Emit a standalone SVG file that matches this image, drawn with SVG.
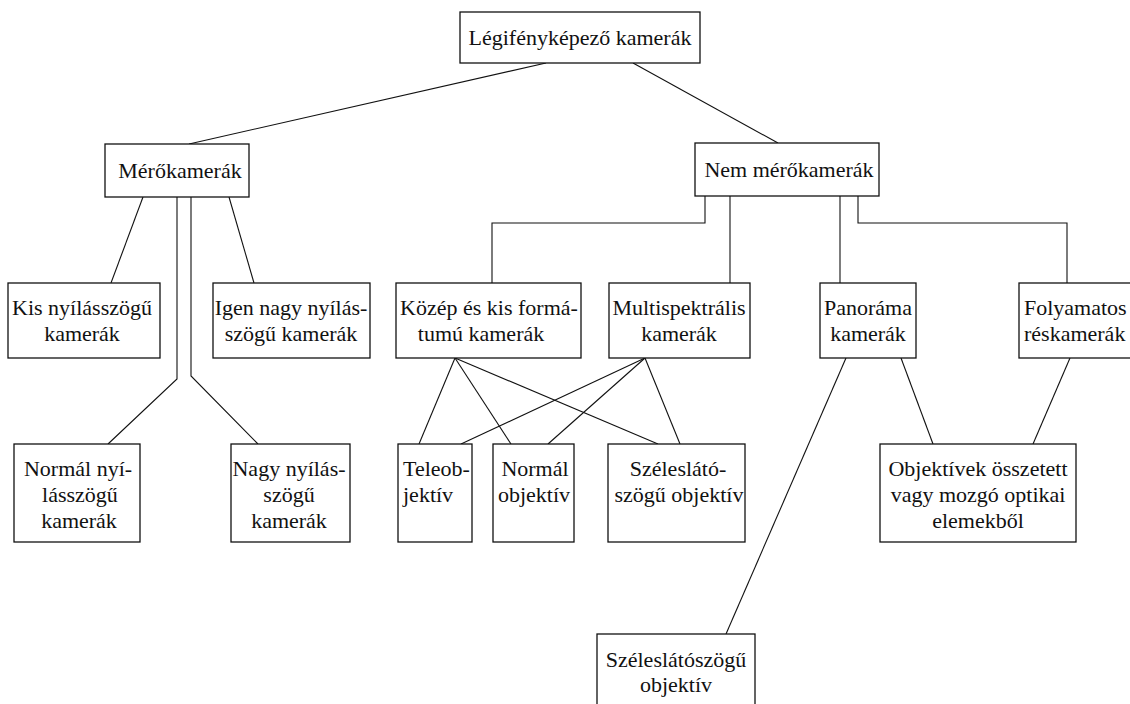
<svg xmlns="http://www.w3.org/2000/svg" width="1130" height="704" viewBox="0 0 1130 704">
<style>
.box{fill:#fff;stroke:#111;stroke-width:1.3}
.ln{fill:none;stroke:#111;stroke-width:1.1}
.t{font-family:'Liberation Serif','Times New Roman','DejaVu Serif',serif;font-size:22px;fill:#111}
.m{text-anchor:middle}
</style>
<rect width="1130" height="704" fill="#fff"/>
<g id="connectors">
<line class="ln" x1="546" y1="63" x2="189" y2="144"/>
<line class="ln" x1="633" y1="63" x2="778" y2="143"/>
<line class="ln" x1="143" y1="197" x2="111" y2="283"/>
<line class="ln" x1="229" y1="197" x2="254" y2="283"/>
<polyline class="ln" points="177,197 177,379 108,444"/>
<polyline class="ln" points="191,197 191,376 258,444"/>
<polyline class="ln" points="705,196 705,223 492,223 492,283"/>
<line class="ln" x1="730" y1="196" x2="730" y2="283"/>
<line class="ln" x1="840" y1="196" x2="840" y2="283"/>
<polyline class="ln" points="858,196 858,223 1067,223 1067,283"/>
<line class="ln" x1="455" y1="358" x2="419" y2="444"/>
<line class="ln" x1="455" y1="358" x2="511" y2="444"/>
<line class="ln" x1="455" y1="358" x2="658" y2="444"/>
<line class="ln" x1="645" y1="358" x2="461" y2="444"/>
<line class="ln" x1="645" y1="358" x2="548" y2="444"/>
<line class="ln" x1="645" y1="358" x2="680" y2="444"/>
<line class="ln" x1="846" y1="358" x2="726" y2="634"/>
<line class="ln" x1="901" y1="358" x2="933" y2="444"/>
<line class="ln" x1="1070" y1="358" x2="1033" y2="444"/>
</g>
<g class="t" font-family="Liberation Serif, DejaVu Serif, serif" font-size="22">
<g id="n-root"><rect class="box" x="460" y="12" width="240" height="51"/><text class="m" x="580" y="45">Légifényképező kamerák</text></g>
<g id="n-mero"><rect class="box" x="105" y="144" width="144" height="53"/><text class="m" x="180" y="178">Mérőkamerák</text></g>
<g id="n-nem"><rect class="box" x="695" y="143" width="184" height="53"/><text class="m" x="789" y="177">Nem mérőkamerák</text></g>
<g id="n-kis"><rect class="box" x="8" y="283" width="152" height="75"/><text class="m" x="82" y="315">Kis nyílásszögű</text><text class="m" x="82" y="341">kamerák</text></g>
<g id="n-igen"><rect class="box" x="213" y="283" width="157" height="75"/><text class="m" x="291" y="315">Igen nagy nyílás-</text><text class="m" x="291" y="341">szögű kamerák</text></g>
<g id="n-kozep"><rect class="box" x="396" y="283" width="185" height="75"/><text class="m" x="489" y="315">Közép és kis formá-</text><text class="m" x="481" y="341">tumú kamerák</text></g>
<g id="n-multi"><rect class="box" x="609" y="283" width="141" height="75"/><text class="m" x="679" y="315">Multispektrális</text><text class="m" x="679" y="341">kamerák</text></g>
<g id="n-pano"><rect class="box" x="820" y="283" width="96" height="75"/><text class="m" x="868" y="315">Panoráma</text><text class="m" x="868" y="341">kamerák</text></g>
<g id="n-foly"><rect class="box" x="1019" y="283" width="120" height="75"/><text x="1024" y="315">Folyamatos</text><text x="1024" y="341">réskamerák</text></g>
<g id="n-normalkam"><rect class="box" x="14" y="444" width="126" height="98"/><text class="m" x="78" y="476">Normál nyí-</text><text class="m" x="80" y="502">lásszögű</text><text class="m" x="79" y="528">kamerák</text></g>
<g id="n-nagy"><rect class="box" x="231" y="444" width="119" height="98"/><text class="m" x="289" y="476">Nagy nyílás-</text><text class="m" x="289" y="502">szögű</text><text class="m" x="289" y="528">kamerák</text></g>
<g id="n-tele"><rect class="box" x="398" y="444" width="74" height="98"/><text x="403" y="476">Teleob-</text><text x="403" y="502">jektív</text></g>
<g id="n-normalobj"><rect class="box" x="493" y="444" width="81" height="98"/><text class="m" x="535" y="476">Normál</text><text class="m" x="534" y="502">objektív</text></g>
<g id="n-szeles"><rect class="box" x="608" y="444" width="137" height="98"/><text class="m" x="678" y="476">Széleslátó-</text><text class="m" x="679" y="502">szögű objektív</text></g>
<g id="n-objektivek"><rect class="box" x="880" y="444" width="196" height="98"/><text class="m" x="978" y="476">Objektívek összetett</text><text class="m" x="978" y="502">vagy mozgó optikai</text><text class="m" x="978" y="528">elemekből</text></g>
<g id="n-bottom"><rect class="box" x="597" y="634" width="158" height="80"/><text class="m" x="676" y="667">Széleslátószögű</text><text class="m" x="676" y="692">objektív</text></g>
</g>
</svg>
